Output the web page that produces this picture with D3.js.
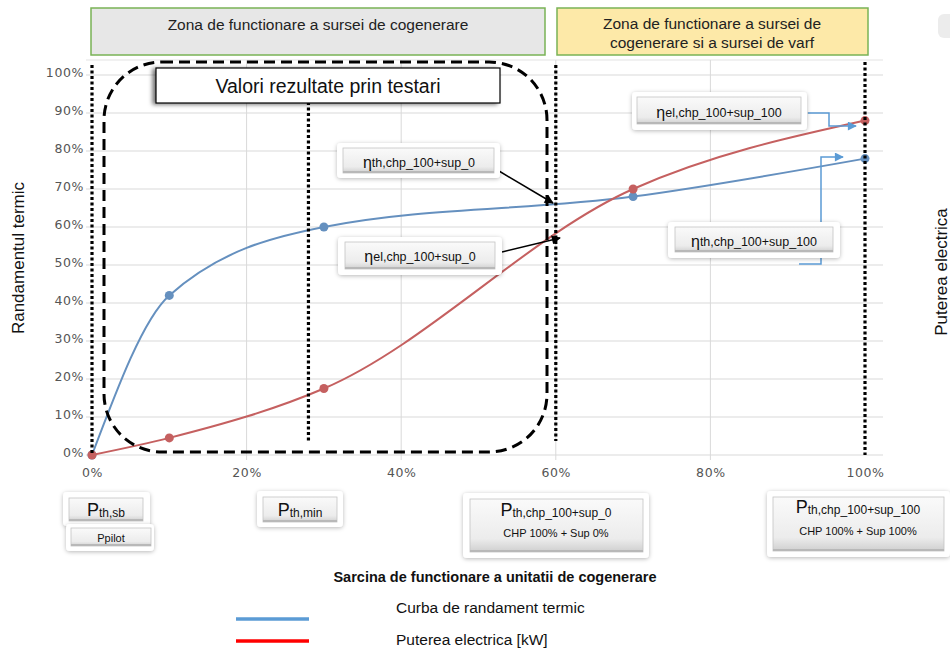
<!DOCTYPE html>
<html><head><meta charset="utf-8">
<script src="https://cdn.jsdelivr.net/npm/d3@7"></script>
<style>body{margin:0;background:#fff} svg{display:block}</style>
</head><body>
<svg id="c" width="950" height="650"></svg>
<script>
// ---- data ----
const loadPct = [0, 10, 30, 70, 100];
const thermalEff = [0, 42, 60, 68, 78];
const electricPower = [0, 4.5, 17.5, 70, 88];
const xTicks = [0, 20, 40, 60, 80, 100];
const yTicks = [0, 10, 20, 30, 40, 50, 60, 70, 80, 90, 100];
const seriesNames = ["Curba de randament termic", "Puterea electrica [kW]"];
const zoneBounds = [0, 28, 60, 100];

const svg = d3.select("#c");
const F = "'Liberation Sans', Arial, sans-serif";
const x = d3.scaleLinear([0, 100], [92, 865]);
const y = d3.scaleLinear([0, 100], [455, 75]);

const defs = svg.append("defs");
const gr = defs.append("linearGradient").attr("id", "btn").attr("x1", 0).attr("y1", 0).attr("x2", 0).attr("y2", 1);
gr.append("stop").attr("offset", "0").attr("stop-color", "#fafafa");
gr.append("stop").attr("offset", "0.75").attr("stop-color", "#ececec");
gr.append("stop").attr("offset", "1").attr("stop-color", "#cfcfcf");
const sh = defs.append("filter").attr("id", "sh").attr("x", "-20%").attr("y", "-30%").attr("width", "140%").attr("height", "160%");
sh.append("feDropShadow").attr("dx", 0).attr("dy", 1).attr("stdDeviation", 2).attr("flood-color", "#000").attr("flood-opacity", 0.28);
const sh2 = defs.append("filter").attr("id", "sh2").attr("x", "-10%").attr("y", "-30%").attr("width", "120%").attr("height", "160%");
sh2.append("feDropShadow").attr("dx", -3).attr("dy", 1).attr("stdDeviation", 2).attr("flood-color", "#000").attr("flood-opacity", 0.55);
function arrowMarker(id, col) {
  defs.append("marker").attr("id", id).attr("viewBox", "0 0 10 10").attr("refX", 9).attr("refY", 5)
    .attr("markerWidth", 11).attr("markerHeight", 9).attr("markerUnits", "userSpaceOnUse").attr("orient", "auto")
    .append("path").attr("d", "M0,0L10,5L0,10z").attr("fill", col);
}
arrowMarker("ab", "#000");
arrowMarker("abl", "#5b9bd5");

// ---- top zone boxes ----
svg.append("rect").attr("x", 91).attr("y", 8).attr("width", 454).attr("height", 47)
  .attr("fill", "#e7e7e7").attr("stroke", "#79b356").attr("stroke-width", 1.5);
svg.append("text").attr("x", 318).attr("y", 30).attr("text-anchor", "middle").attr("font-family", F)
  .attr("font-size", 15.5).attr("fill", "#222").text("Zona de functionare a sursei de cogenerare");
svg.append("rect").attr("x", 557).attr("y", 8).attr("width", 311).attr("height", 47)
  .attr("fill", "#fde9a8").attr("stroke", "#79b356").attr("stroke-width", 1.5);
svg.append("text").attr("x", 712).attr("y", 29).attr("text-anchor", "middle").attr("font-family", F)
  .attr("font-size", 15.5).attr("fill", "#222").text("Zona de functionare a sursei de");
svg.append("text").attr("x", 712).attr("y", 48).attr("text-anchor", "middle").attr("font-family", F)
  .attr("font-size", 15.5).attr("fill", "#222").text("cogenerare si a sursei de varf");
svg.append("rect").attr("x", 938).attr("y", 14).attr("width", 20).attr("height", 24).attr("rx", 6).attr("fill", "#ececec");

// ---- grid ----
const grid = svg.append("g");
grid.append("line").attr("x1", 86).attr("x2", 883).attr("y1", 60).attr("y2", 60).attr("stroke", "#e3e3e3");
grid.selectAll(".h").data(yTicks).join("line").attr("x1", 86).attr("x2", 883)
  .attr("y1", d => y(d)).attr("y2", d => y(d)).attr("stroke", "#d9d9d9");
grid.selectAll(".v").data(xTicks.filter(d => d > 0 && d < 100)).join("line")
  .attr("x1", d => x(d)).attr("x2", d => x(d)).attr("y1", 60).attr("y2", 460).attr("stroke", "#d9d9d9");

// ---- axes ----
const ya = svg.append("g").attr("transform", "translate(86,0)")
  .call(d3.axisLeft(y).tickValues(yTicks).tickFormat(d => d + "%").tickSize(0).tickPadding(2));
ya.select(".domain").remove();
ya.selectAll("text").attr("font-family", "'DejaVu Sans', sans-serif").attr("font-size", 12.5)
  .attr("fill", "#555").attr("letter-spacing", 0.6).attr("dy", "0.1em");
const xa = svg.append("g").attr("transform", "translate(0,463)")
  .call(d3.axisBottom(x).tickValues(xTicks).tickFormat(d => d + "%").tickSize(0).tickPadding(5));
xa.select(".domain").remove();
xa.selectAll("text").attr("font-family", "'DejaVu Sans', sans-serif").attr("font-size", 12.5)
  .attr("fill", "#555").attr("letter-spacing", 0.6);

// ---- axis titles ----
svg.append("text").attr("transform", "translate(24,258) rotate(-90)").attr("text-anchor", "middle")
  .attr("font-family", "'Liberation Sans Narrow', 'Arial Narrow', sans-serif").attr("font-size", 17).attr("fill", "#111")
  .text("Randamentul termic");
svg.append("text").attr("transform", "translate(947,272) rotate(-90)").attr("text-anchor", "middle")
  .attr("font-family", "'Liberation Sans Narrow', 'Arial Narrow', sans-serif").attr("font-size", 17).attr("fill", "#111")
  .text("Puterea electrica");
svg.append("text").attr("x", 495).attr("y", 582).attr("text-anchor", "middle").attr("font-family", F)
  .attr("font-weight", "bold").attr("font-size", 14.5).attr("fill", "#111")
  .text("Sarcina de functionare a unitatii de cogenerare");

// ---- series ----
const thData = loadPct.map((p, i) => [p, thermalEff[i]]);
const elData = loadPct.map((p, i) => [p, electricPower[i]]);
const line = d3.line().x(d => x(d[0])).y(d => y(d[1])).curve(d3.curveMonotoneX);
const series = [{ d: thData, c: "#6590bf" }, { d: elData, c: "#c56060" }];
series.forEach(s => {
  svg.append("path").attr("d", line(s.d)).attr("fill", "none").attr("stroke", s.c).attr("stroke-width", 2);
  svg.selectAll(null).data(s.d).join("circle").attr("cx", d => x(d[0])).attr("cy", d => y(d[1]))
    .attr("r", 4.5).attr("fill", s.c);
});

// ---- zone boundaries (dotted) ----
const zY = [[65, 455], [102, 441], [65, 441], [62, 455]];
svg.selectAll(".zl").data(zoneBounds).join("line")
  .attr("x1", d => x(d)).attr("x2", d => x(d)).attr("y1", (d, i) => zY[i][0]).attr("y2", (d, i) => zY[i][1])
  .attr("stroke", "#000").attr("stroke-width", 3.2).attr("stroke-dasharray", "3,2.5");

// ---- dashed rounded rect (tested values) ----
svg.append("rect").attr("x", 104).attr("y", 62).attr("width", 443).attr("height", 390).attr("rx", 58)
  .attr("fill", "none").attr("stroke", "#000").attr("stroke-width", 3).attr("stroke-dasharray", "11,6");
svg.append("rect").attr("x", 156).attr("y", 68).attr("width", 344).attr("height", 35)
  .attr("fill", "#fff").attr("stroke", "#000").attr("stroke-width", 1.2).attr("filter", "url(#sh2)");
svg.append("text").attr("x", 328).attr("y", 93).attr("text-anchor", "middle").attr("font-family", F)
  .attr("font-size", 19.5).attr("fill", "#111").text("Valori rezultate prin testari");

// ---- buttons ----
function button(o, i) {
  svg.append("rect").attr("x", o[0]).attr("y", o[1]).attr("width", o[2] - o[0]).attr("height", o[3] - o[1])
    .attr("rx", 4).attr("fill", "#fff").attr("filter", "url(#sh)");
  svg.append("rect").attr("x", i[0]).attr("y", i[1]).attr("width", i[2] - i[0]).attr("height", i[3] - i[1])
    .attr("fill", "url(#btn)").attr("stroke", "#c4c4c4").attr("stroke-width", 0.8);
  svg.append("rect").attr("x", i[0]).attr("y", i[3] - 2).attr("width", i[2] - i[0]).attr("height", 2).attr("fill", "#b8b8b8");
}
function pLabel(cx, by, big, sub, bs, ss) {
  const t = svg.append("text").attr("x", cx).attr("y", by).attr("text-anchor", "middle").attr("font-family", F).attr("fill", "#111");
  t.append("tspan").attr("font-size", bs).text(big);
  t.append("tspan").attr("font-size", ss).attr("dy", 1).text(sub);
}
function plain(cx, by, s, fs) {
  svg.append("text").attr("x", cx).attr("y", by).attr("text-anchor", "middle").attr("font-family", F)
    .attr("font-size", fs).attr("fill", "#111").text(s);
}

// bottom
button([63, 492, 150, 526], [69, 498, 143, 521]);
pLabel(106, 516, "P", "th,sb", 18, 12);
button([66, 524, 154, 551], [71, 528, 151, 546]);
plain(111, 542, "Ppilot", 11);
button([257, 491, 343, 527], [263, 497, 337, 522]);
pLabel(300, 516, "P", "th,min", 18, 12);
button([463, 493, 649, 558], [470, 499, 643, 552]);
pLabel(556, 516, "P", "th,chp_100+sup_0", 18, 12);
plain(556, 537, "CHP 100% + Sup 0%", 11);
button([767, 491, 950, 557], [773, 497, 944, 551]);
pLabel(858, 513, "P", "th,chp_100+sup_100", 18, 12);
plain(858, 535, "CHP 100% + Sup 100%", 11);

// annotations
function eta(cx, by, sub) {
  const t = svg.append("text").attr("x", cx).attr("y", by).attr("text-anchor", "middle").attr("font-family", F).attr("fill", "#111");
  t.append("tspan").attr("font-size", 16).text("η");
  t.append("tspan").attr("font-size", 12.5).attr("dy", -1).text(sub);
}
svg.append("line").attr("x1", 499).attr("y1", 171).attr("x2", 553).attr("y2", 203)
  .attr("stroke", "#000").attr("stroke-width", 1.5).attr("marker-end", "url(#ab)");
svg.append("line").attr("x1", 502).attr("y1", 252).attr("x2", 560).attr("y2", 238)
  .attr("stroke", "#000").attr("stroke-width", 1.5).attr("marker-end", "url(#ab)");
svg.append("path").attr("d", "M808,113H829V126H856").attr("fill", "none")
  .attr("stroke", "#5b9bd5").attr("stroke-width", 1.5).attr("marker-end", "url(#abl)");
svg.append("path").attr("d", "M799,264H821V157H843").attr("fill", "none")
  .attr("stroke", "#5b9bd5").attr("stroke-width", 1.5).attr("marker-end", "url(#abl)");

button([337, 143, 500, 178], [343, 148, 494, 173]);
eta(419, 168, "th,chp_100+sup_0");
button([338, 237, 502, 275], [345, 242, 495, 269]);
eta(420, 262, "el,chp_100+sup_0");
button([632, 92, 807, 130], [637, 97, 801, 124]);
eta(719, 118, "el,chp_100+sup_100");
button([668, 222, 840, 258], [675, 227, 833, 252]);
eta(754, 247, "th,chp_100+sup_100");

// ---- legend ----
const legCols = ["#5b9bd5", "#ff0000"];
const legY = [619, 641];
const legTY = [613, 645];
seriesNames.forEach((n, i) => {
  svg.append("line").attr("x1", 236).attr("x2", 309).attr("y1", legY[i]).attr("y2", legY[i])
    .attr("stroke", legCols[i]).attr("stroke-width", 3.5);
  svg.append("text").attr("x", 396).attr("y", legTY[i]).attr("font-family", F).attr("font-size", 15.5)
    .attr("fill", "#111").text(n);
});
</script>
</body></html>
